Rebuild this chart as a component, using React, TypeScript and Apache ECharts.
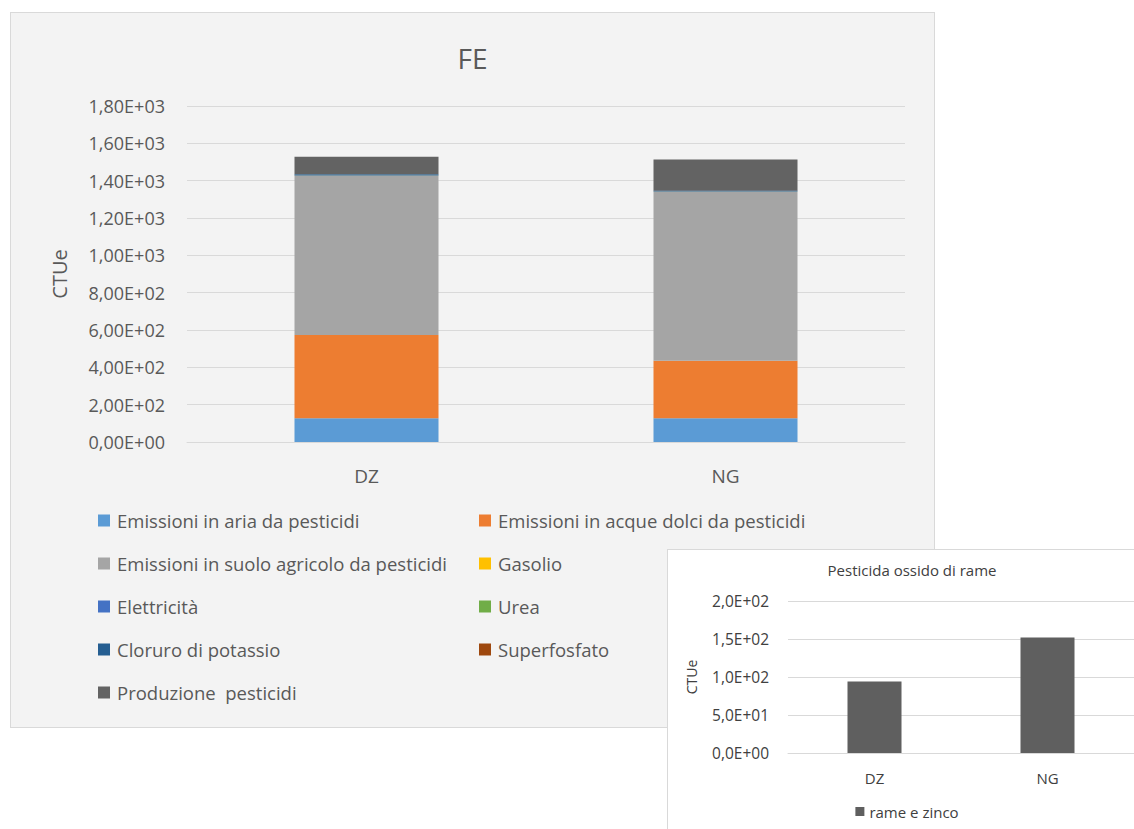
import React, { useEffect, useRef } from "react";
import * as echarts from "echarts";

const categories = ["DZ", "NG"];
const seriesNames = [
  "Emissioni in aria da pesticidi",
  "Emissioni in acque dolci da pesticidi",
  "Emissioni in suolo agricolo da pesticidi",
  "Gasolio",
  "Elettricità",
  "Urea",
  "Cloruro di potassio",
  "Superfosfato",
  "Produzione  pesticidi",
];
const seriesColors = ["#5B9BD5", "#ED7D31", "#A5A5A5", "#FFC000", "#4472C4", "#70AD47", "#255E91", "#9E480E", "#636363"];
const aria = [127, 127];
const acque = [446, 308];
const suolo = [852, 904];
const gasolio = [1, 1];
const elettricita = [1.5, 1.5];
const urea = [0.5, 0.5];
const cloruro = [6, 6];
const superfosfato = [1, 2];
const produzione = [93, 164];
const mainTickLabels = ["0,00E+00", "2,00E+02", "4,00E+02", "6,00E+02", "8,00E+02", "1,00E+03", "1,20E+03", "1,40E+03", "1,60E+03", "1,80E+03"];

const insetCategories = ["DZ", "NG"];
const rameZinco = [94, 152];
const insetTickLabels = ["0,0E+00", "5,0E+01", "1,0E+02", "1,5E+02", "2,0E+02"];

const FONT = "Open Sans";
const TXT = "#595959";
const TXT2 = "#404040";

function MainChart() {
  const ref = useRef<HTMLDivElement>(null);
  useEffect(() => {
    const chart = echarts.init(ref.current!, null, { renderer: "svg" });
    const values = [aria, acque, suolo, gasolio, elettricita, urea, cloruro, superfosfato, produzione];
    const legendBase = {
      orient: "vertical",
      top: 493,
      itemWidth: 12,
      itemHeight: 12,
      itemGap: 24,
      icon: "rect",
      selectedMode: false,
      textStyle: { fontFamily: FONT, fontSize: 18.5, color: TXT, lineHeight: 18, padding: [0, 0, 0, 2] },
    };
    chart.setOption({
      animation: false,
      textStyle: { fontFamily: FONT },
      title: {
        text: "FE",
        left: "center",
        top: 26,
        textStyle: { fontFamily: FONT, fontSize: 28, fontWeight: "normal", color: TXT },
      },
      legend: [
        { ...legendBase, left: 82, data: [seriesNames[0], seriesNames[2], seriesNames[4], seriesNames[6], seriesNames[8]] },
        { ...legendBase, left: 463, data: [seriesNames[1], seriesNames[3], seriesNames[5], seriesNames[7]] },
      ],
      grid: { left: 176, top: 93, width: 718, height: 336 },
      xAxis: {
        type: "category",
        data: categories,
        axisLine: { lineStyle: { color: "#d9d9d9", width: 1 } },
        axisTick: { show: false },
        axisLabel: { fontFamily: FONT, fontSize: 19, color: TXT, margin: 24 },
      },
      yAxis: {
        type: "value",
        min: 0,
        max: 1800,
        interval: 200,
        name: "CTUe",
        nameLocation: "middle",
        nameGap: 118,
        nameTextStyle: { fontFamily: FONT, fontSize: 20, color: TXT },
        axisLine: { show: false },
        axisTick: { show: false },
        splitLine: { lineStyle: { color: "#d9d9d9", width: 1 } },
        axisLabel: {
          fontFamily: FONT,
          fontSize: 18,
          color: TXT,
          margin: 22,
          formatter: (v: number) => mainTickLabels[Math.round(v / 200)],
        },
      },
      series: seriesNames.map((name, i) => ({
        name,
        type: "bar",
        stack: "total",
        barWidth: 144,
        itemStyle: { color: seriesColors[i] },
        data: values[i],
      })),
    });
    return () => chart.dispose();
  }, []);
  return <div ref={ref} style={{ width: "100%", height: "100%" }} />;
}

function InsetChart() {
  const ref = useRef<HTMLDivElement>(null);
  useEffect(() => {
    const chart = echarts.init(ref.current!, null, { renderer: "svg" });
    chart.setOption({
      animation: false,
      textStyle: { fontFamily: FONT },
      title: {
        text: "Pesticida ossido di rame",
        left: 239,
        textAlign: "center",
        top: 7,
        textStyle: { fontFamily: FONT, fontSize: 15, fontWeight: "normal", color: TXT2 },
      },
      legend: {
        left: "center",
        top: 249,
        itemWidth: 9,
        itemHeight: 9,
        icon: "rect",
        selectedMode: false,
        textStyle: { fontFamily: FONT, fontSize: 15, color: TXT2 },
        data: ["rame e zinco"],
      },
      grid: { left: 120, top: 51, width: 346, height: 152 },
      xAxis: {
        type: "category",
        data: insetCategories,
        axisLine: { lineStyle: { color: "#d9d9d9" } },
        axisTick: { show: false },
        axisLabel: { fontFamily: FONT, fontSize: 15, color: TXT2, margin: 17 },
      },
      yAxis: {
        type: "value",
        min: 0,
        max: 200,
        interval: 50,
        name: "CTUe",
        nameLocation: "middle",
        nameGap: 90,
        nameTextStyle: { fontFamily: FONT, fontSize: 14, color: TXT2 },
        axisLine: { show: false },
        axisTick: { show: false },
        splitLine: { lineStyle: { color: "#d9d9d9" } },
        axisLabel: {
          fontFamily: FONT,
          fontSize: 15.5,
          color: TXT2,
          margin: 19,
          formatter: (v: number) => insetTickLabels[Math.round(v / 50)],
        },
      },
      series: [
        {
          name: "rame e zinco",
          type: "bar",
          barWidth: 54,
          itemStyle: { color: "#5f5f5f" },
          data: rameZinco,
        },
      ],
    });
    return () => chart.dispose();
  }, []);
  return <div ref={ref} style={{ width: "100%", height: "100%" }} />;
}

export default function App() {
  return (
    <div style={{ position: "absolute", left: 0, top: 0, width: 1134, height: 829, overflow: "hidden", background: "#ffffff" }}>
      <div
        style={{
          position: "absolute",
          left: 10,
          top: 12,
          width: 925,
          height: 716,
          boxSizing: "border-box",
          border: "1px solid #d9d9d9",
          background: "#f3f3f3",
        }}
      >
        <MainChart />
      </div>
      <div
        style={{
          position: "absolute",
          left: 667,
          top: 549,
          width: 480,
          height: 300,
          boxSizing: "border-box",
          border: "1px solid #d9d9d9",
          background: "#ffffff",
        }}
      >
        <InsetChart />
      </div>
    </div>
  );
}
